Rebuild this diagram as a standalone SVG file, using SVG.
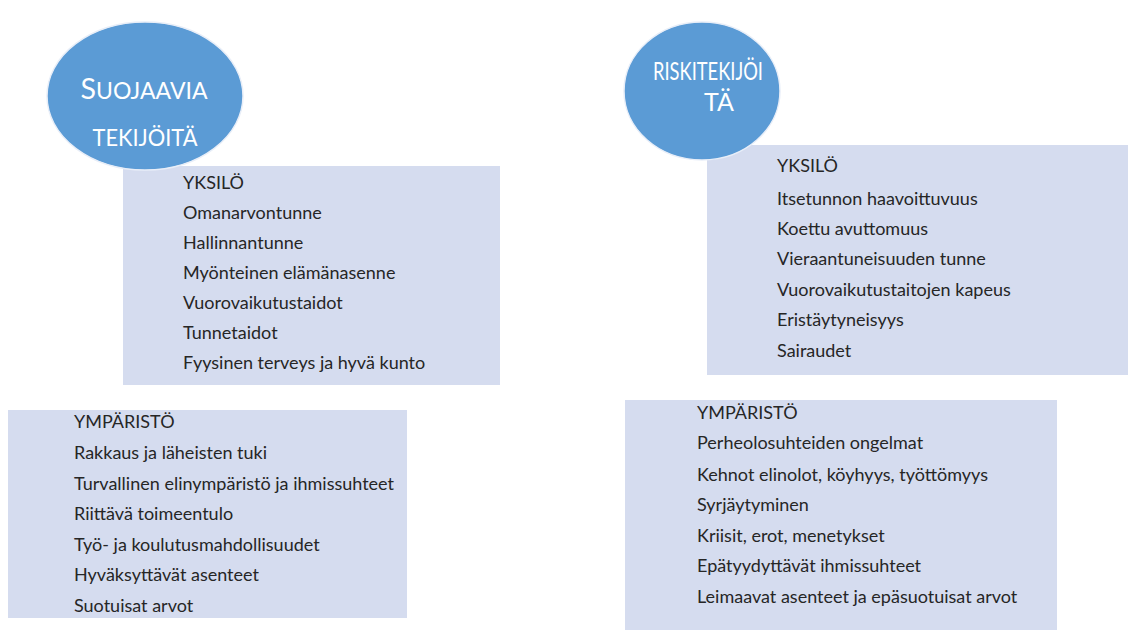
<svg xmlns="http://www.w3.org/2000/svg" width="1128" height="630" viewBox="0 0 1128 630">
<style>
.box{fill:#d5dcef}
.ell{fill:#5b9bd5;stroke:#e8eef8;stroke-width:1.5}
.t{font-family:Lato,"Liberation Sans",sans-serif;font-size:18px;fill:#262626}
.h{font-family:Lato,"Liberation Sans",sans-serif;fill:#ffffff;text-anchor:middle}
</style>
<rect width="1128" height="630" fill="#ffffff"/>
<g id="suojaavia-yksilo">
<rect class="box" x="123" y="166" width="377" height="219"/>
<text class="t" x="183" y="189" font-size="16.5">YKSILÖ</text>
<text class="t" x="183" y="219">Omanarvontunne</text>
<text class="t" x="183" y="249">Hallinnantunne</text>
<text class="t" x="183" y="279">Myönteinen elämänasenne</text>
<text class="t" x="183" y="309">Vuorovaikutustaidot</text>
<text class="t" x="183" y="339">Tunnetaidot</text>
<text class="t" x="183" y="369">Fyysinen terveys ja hyvä kunto</text>
</g>
<g id="suojaavia-ymparisto">
<rect class="box" x="8" y="410" width="399" height="208"/>
<text class="t" x="74" y="428" font-size="16.5">YMPÄRISTÖ</text>
<text class="t" x="74" y="459">Rakkaus ja  läheisten tuki</text>
<text class="t" x="74" y="490">Turvallinen elinympäristö ja ihmissuhteet</text>
<text class="t" x="74" y="520">Riittävä toimeentulo</text>
<text class="t" x="74" y="551">Työ- ja koulutusmahdollisuudet</text>
<text class="t" x="74" y="581">Hyväksyttävät asenteet</text>
<text class="t" x="74" y="612">Suotuisat arvot</text>
</g>
<g id="riski-yksilo">
<rect class="box" x="707" y="145" width="421" height="230"/>
<text class="t" x="777" y="172" font-size="19.5">YKSILÖ</text>
<text class="t" x="777" y="205">Itsetunnon haavoittuvuus</text>
<text class="t" x="777" y="235">Koettu avuttomuus</text>
<text class="t" x="777" y="265">Vieraantuneisuuden tunne</text>
<text class="t" x="777" y="296">Vuorovaikutustaitojen kapeus</text>
<text class="t" x="777" y="326">Eristäytyneisyys</text>
<text class="t" x="777" y="357">Sairaudet</text>
</g>
<g id="riski-ymparisto">
<rect class="box" x="625" y="400" width="432" height="230"/>
<text class="t" x="697" y="419" font-size="16.5">YMPÄRISTÖ</text>
<text class="t" x="697" y="449">Perheolosuhteiden ongelmat</text>
<text class="t" x="697" y="481">Kehnot elinolot, köyhyys, työttömyys</text>
<text class="t" x="697" y="511">Syrjäytyminen</text>
<text class="t" x="697" y="542">Kriisit, erot, menetykset</text>
<text class="t" x="697" y="572">Epätyydyttävät ihmissuhteet</text>
<text class="t" x="697" y="603">Leimaavat asenteet ja epäsuotuisat arvot</text>
</g>
<g id="suojaavia">
<ellipse class="ell" cx="145" cy="96" rx="98" ry="74"/>
<text class="h" x="144" y="99" font-size="22.5" textLength="127" lengthAdjust="spacingAndGlyphs"><tspan font-size="28">S</tspan>UOJAAVIA</text>
<text class="h" x="145" y="146" font-size="22.5" textLength="105" lengthAdjust="spacingAndGlyphs">TEKIJÖITÄ</text>
</g>
<g id="riskitekijoita">
<ellipse class="ell" cx="702" cy="91" rx="78" ry="69"/>
<text class="h" x="708" y="80" font-size="25" textLength="110" lengthAdjust="spacingAndGlyphs">RISKITEKIJÖI</text>
<text class="h" x="719" y="111" font-size="25">TÄ</text>
</g>
<g id="connectors"/>
</svg>
